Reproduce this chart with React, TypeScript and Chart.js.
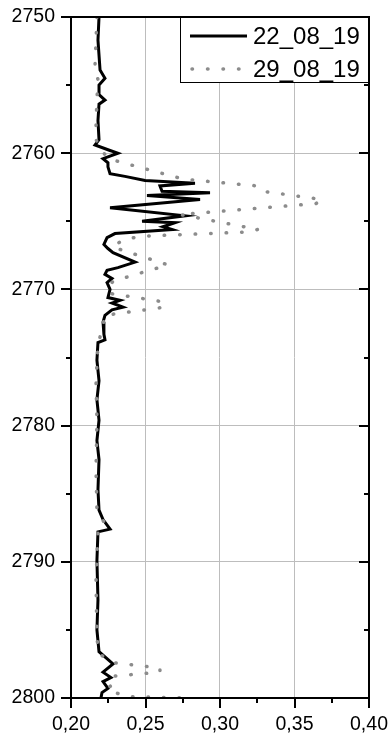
import React, { useEffect, useRef } from "react";
import { Chart, registerables } from "chart.js";

Chart.register(...registerables);

const seriesLabels = ["22_08_19", "29_08_19"];

const depthA = [
  2750.0, 2751.7, 2753.9, 2754.5, 2755.0, 2755.7, 2756.1, 2756.4, 2757.6, 2759.0,
  2759.4, 2759.8, 2760.0, 2760.4, 2760.7, 2761.0, 2761.5, 2761.7, 2762.0, 2762.2,
  2762.4, 2762.8, 2762.9, 2763.1, 2763.4, 2764.0, 2764.6, 2765.0, 2765.1, 2765.4,
  2765.6, 2765.9, 2766.2, 2766.7, 2767.0, 2767.3, 2768.0, 2768.4, 2768.6, 2768.9,
  2769.2, 2769.5, 2770.0, 2770.6, 2770.8, 2771.0, 2771.3, 2771.5, 2771.9, 2772.4,
  2773.3, 2773.7, 2773.9, 2775.2, 2776.7, 2778.1, 2779.6, 2781.1, 2782.5, 2784.7,
  2786.2, 2786.9, 2787.6, 2787.8, 2789.9, 2792.8, 2795.0, 2796.6, 2797.5, 2798.1,
  2798.5, 2798.8, 2799.3, 2799.6, 2800.0,
];
const valueA = [
  0.2188, 0.2181, 0.2195, 0.2228, 0.2188, 0.2188, 0.2228, 0.2188, 0.2181, 0.2188,
  0.2161, 0.2262, 0.2315, 0.2215, 0.2248, 0.2248, 0.2262, 0.2362, 0.2497, 0.2832,
  0.2597, 0.2611, 0.2933, 0.2510, 0.2866, 0.2262, 0.2765, 0.2477, 0.2698, 0.2617,
  0.2678, 0.2295, 0.2242, 0.2221, 0.2248, 0.2282, 0.2430, 0.2315, 0.2242, 0.2228,
  0.2275, 0.2242, 0.2262, 0.2248, 0.2329, 0.2275, 0.2349, 0.2275, 0.2228, 0.2215,
  0.2221, 0.2228, 0.2181, 0.2174, 0.2188, 0.2174, 0.2188, 0.2174, 0.2188, 0.2181,
  0.2188, 0.2215, 0.2262, 0.2181, 0.2174, 0.2181, 0.2174, 0.2188, 0.2282, 0.2215,
  0.2268, 0.2215, 0.2248, 0.2208, 0.2201,
];

const depthB = [
  2750.0, 2751.7, 2753.6, 2754.6, 2756.1, 2757.9, 2759.0, 2759.6, 2760.4, 2761.9,
  2762.4, 2762.8, 2763.4, 2763.7, 2764.5, 2765.6, 2765.8, 2766.1, 2766.4, 2766.9,
  2768.2, 2769.4, 2769.9, 2770.3, 2770.9, 2771.3, 2771.9, 2772.6, 2774.1, 2776.7,
  2779.6, 2783.3, 2786.2, 2787.2, 2787.8, 2791.3, 2795.7, 2796.8, 2797.4, 2797.8,
  2798.1, 2798.4, 2798.9, 2799.3, 2799.6, 2799.9, 2800.0,
];
const valueB = [
  0.2174, 0.2168, 0.2161, 0.2181, 0.2174, 0.2168, 0.2168, 0.2195, 0.2248, 0.2752,
  0.3248, 0.3289, 0.3685, 0.3644, 0.2732, 0.3255, 0.3154, 0.2463, 0.2342, 0.2282,
  0.2651, 0.2282, 0.2248, 0.2262, 0.2611, 0.2631, 0.2228, 0.2215, 0.2181, 0.2168,
  0.2174, 0.2168, 0.2174, 0.2228, 0.2181, 0.2168, 0.2174, 0.2195, 0.2282, 0.2597,
  0.2597, 0.2282, 0.2295, 0.2242, 0.2295, 0.2383, 0.2800,
];

const xMin = 0.2;
const xMax = 0.4;
const xStep = 0.05;
const yMin = 2750;
const yMax = 2800;
const yStep = 10;

const FONT = "'Liberation Sans', Arial, sans-serif";
const GRAY = "#8c8c8c";

const framePlugin = {
  id: "frame",
  afterDraw(chart: any) {
    const { ctx, chartArea, scales } = chart;
    const { left, right, top, bottom } = chartArea;
    const xs = scales.x;
    const ys = scales.y;
    ctx.save();
    ctx.strokeStyle = "#000";
    ctx.lineWidth = 2;
    ctx.lineCap = "butt";
    for (let d = yMin; d <= yMax + 1e-9; d += yStep / 2) {
      const py = Math.round(ys.getPixelForValue(d));
      const major = Math.abs(((d - yMin) / yStep) - Math.round((d - yMin) / yStep)) < 1e-6;
      const len = major ? 10 : 5;
      ctx.beginPath();
      ctx.moveTo(left - len, py);
      ctx.lineTo(left, py);
      ctx.moveTo(right - len, py);
      ctx.lineTo(right, py);
      ctx.stroke();
    }
    const n = Math.round((xMax - xMin) / (xStep / 2));
    for (let i = 0; i <= n; i++) {
      const v = xMin + (i * xStep) / 2;
      const px = Math.round(xs.getPixelForValue(v));
      const len = i % 2 === 0 ? 10 : 5;
      ctx.beginPath();
      ctx.moveTo(px, bottom);
      ctx.lineTo(px, bottom + len);
      ctx.stroke();
    }
    const bw = 189;
    const bh = 66;
    const bx = right - bw;
    const by = top;
    ctx.fillStyle = "#fff";
    ctx.fillRect(bx, by, bw, bh);
    ctx.lineWidth = 1;
    ctx.strokeRect(bx + 0.5, by + 0.5, bw - 1, bh - 1);
    const rows = [by + 19, by + 52];
    ctx.font = "24px " + FONT;
    ctx.textBaseline = "middle";
    ctx.textAlign = "left";
    ctx.fillStyle = "#000";
    ctx.beginPath();
    ctx.strokeStyle = "#000";
    ctx.lineWidth = 3;
    ctx.moveTo(bx + 10, rows[0]);
    ctx.lineTo(bx + 67, rows[0]);
    ctx.stroke();
    ctx.fillText(seriesLabels[0], bx + 73, rows[0] + 1);
    ctx.beginPath();
    ctx.strokeStyle = GRAY;
    ctx.lineWidth = 3.5;
    ctx.lineCap = "round";
    ctx.setLineDash([0.5, 15]);
    ctx.moveTo(bx + 12, rows[1]);
    ctx.lineTo(bx + 67, rows[1]);
    ctx.stroke();
    ctx.setLineDash([]);
    ctx.fillText(seriesLabels[1], bx + 73, rows[1] + 1);
    ctx.strokeStyle = "#000";
    ctx.lineWidth = 2;
    ctx.lineCap = "butt";
    ctx.strokeRect(left, top, right - left, bottom - top);
    ctx.restore();
  },
};

export default function App() {
  const ref = useRef<HTMLCanvasElement | null>(null);
  useEffect(() => {
    if (!ref.current) return;
    const dataA = depthA.map((d, i) => ({ x: valueA[i], y: d }));
    const dataB = depthB.map((d, i) => ({ x: valueB[i], y: d }));
    const chart = new Chart(ref.current, {
      type: "scatter",
      data: {
        datasets: [
          {
            label: seriesLabels[0],
            data: dataA,
            showLine: true,
            borderColor: "#000",
            borderWidth: 3,
            pointRadius: 0,
            tension: 0,
            order: 1,
          },
          {
            label: seriesLabels[1],
            data: dataB,
            showLine: true,
            borderColor: GRAY,
            borderWidth: 3.5,
            borderDash: [0.5, 15],
            borderCapStyle: "round",
            pointRadius: 0,
            tension: 0,
            order: 0,
          },
        ],
      },
      options: {
        animation: false,
        responsive: false,
        devicePixelRatio: 1,
        layout: { padding: { top: 17, right: 20, left: 0, bottom: 0 } },
        plugins: {
          legend: { display: false },
          tooltip: { enabled: false },
        },
        scales: {
          x: {
            type: "linear",
            min: xMin,
            max: xMax,
            border: { display: false },
            grid: { color: "#bdbdbd", lineWidth: 1, drawTicks: false },
            ticks: {
              stepSize: xStep,
              padding: 15,
              color: "#000",
              font: { family: FONT, size: 19.5 },
              maxRotation: 0,
              callback: (v: any) => Number(v).toFixed(2).replace(".", ","),
            },
            afterFit: (s: any) => {
              s.height = 40;
              s.paddingLeft = 0;
              s.paddingRight = 0;
            },
          },
          y: {
            type: "linear",
            reverse: true,
            min: yMin,
            max: yMax,
            border: { display: false },
            grid: { color: "#bdbdbd", lineWidth: 1, drawTicks: false },
            ticks: {
              stepSize: yStep,
              padding: 16,
              color: "#000",
              font: { family: FONT, size: 19.5 },
              callback: (v: any) => String(v),
            },
            afterFit: (s: any) => {
              s.width = 71;
              s.paddingTop = 0;
              s.paddingBottom = 0;
            },
          },
        },
      },
      plugins: [framePlugin],
    });
    return () => chart.destroy();
  }, []);
  return (
    <div style={{ position: "fixed", left: 0, top: 0, width: 389, height: 738, background: "#fff" }}>
      <canvas ref={ref} width={389} height={738} style={{ display: "block" }} />
    </div>
  );
}
